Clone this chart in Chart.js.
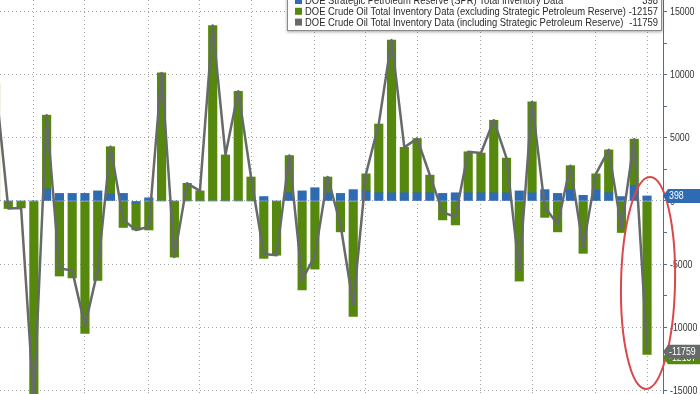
<!DOCTYPE html>
<html>
<head>
<meta charset="utf-8">
<script src="https://cdn.jsdelivr.net/npm/chart.js@4.4.1/dist/chart.umd.min.js"></script>
<style>
  body { margin: 0; background: #fff; }
  #wrap { width: 700px; height: 394px; }
</style>
</head>
<body>
<div id="wrap"><canvas id="graphique" width="700" height="394"></canvas></div>
<script>
// weekly changes, thousand barrels
const sprChange = [0, 0, 0, 0, 950, 600, 600, 600, 800, 550, 600, -200, 250, 0, 0, 0, 0, 0, 0, 0,
  0, 350, 0, 650, 800, 1050, 650, 600, 900, 800, 650, 650, 650, 650, 650, 600, 650, 650, 650, 650,
  650, 800, 650, 900, 600, 900, 450, 850, 650, 350, 1250, 398];
const exSprChange = [9300, -600, -550, -16000, 5850, -5950, -6100, -10500, -6300, 3750, -2100, -2100, -2300, 10150, -4450, 1400, 800, 13900, 3650, 8700,
  1900, -4550, -4300, 2950, -7050, -5400, 1250, -2450, -9150, 1350, 5450, 12100, 3600, 4300, 1400, -1500, -1900, 3250, 3150, 5750,
  2750, -6350, 7200, -1300, -2450, 1900, -4150, 1300, 3400, -2500, 3650, -12157];
const totalChange = [9300, -600, -550, -16000, 6800, -5350, -5500, -9900, -5500, 4300, -1500, -2300, -2050, 10150, -4450, 1400, 800, 13900, 3650, 8700,
  1900, -4200, -4300, 3600, -6250, -4350, 1900, -1850, -8250, 2150, 6100, 12750, 4250, 4950, 2050, -900, -1250, 3900, 3800, 6400,
  3400, -5550, 7850, -500, -1850, 2800, -3700, 2150, 4050, -2150, 4900, -11759];
// month boundaries (week index) used for the vertical grid
const monthIdx = [3, 7, 12, 16, 20, 25, 29, 33, 38, 42, 47, 51];
const yTicks = [-15000, -12500, -10000, -7500, -5000, -2500, 0, 2500, 5000, 7500, 10000, 12500, 15000];
const legendNames = [
  'DOE Strategic Petroleum Reserve (SPR) Total Inventory Data',
  'DOE Crude Oil Total Inventory Data (excluding Strategic Petroleum Reserve)',
  'DOE Crude Oil Total Inventory Data (including Strategic Petroleum Reserve)'
];

const BLUE = '#2e6bb2', GREEN = '#55880c', GREY = '#676a6a';
const pts = arr => arr.map((v, i) => ({ x: i, y: v }));
const last = totalChange.length - 1;

// narrow text, like the terminal font
function narrowText(c, txt, x, y, sx, align) {
  c.save();
  c.translate(x, y);
  c.scale(sx, 1);
  c.textAlign = align;
  c.fillText(txt, 0, 0);
  c.restore();
}

const overlay = {
  id: 'overlay',
  afterDraw(chart) {
    const c = chart.ctx, xs = chart.scales.x, ys = chart.scales.y;
    const lastVals = [sprChange[last], exSprChange[last], totalChange[last]];
    const colors = [BLUE, GREEN, GREY];
    const right = chart.chartArea.right;

    // axis labels
    c.save();
    c.fillStyle = '#333';
    c.font = '11px "Liberation Sans"';
    c.textBaseline = 'middle';
    yTicks.filter(v => v % 5000 === 0).forEach(v => {
      narrowText(c, String(v), right + 7, ys.getPixelForValue(v) + 0.5, 0.8, 'left');
    });
    c.restore();

    // red ellipse round the last week
    c.save();
    const cx = xs.getPixelForValue(last) + 1;
    const cy = ys.getPixelForValue(-6500);
    const ry = ys.getPixelForValue(-6500) - ys.getPixelForValue(1900);
    c.beginPath();
    c.ellipse(cx, cy, 27, ry, 0.02, 0, Math.PI * 2);
    c.strokeStyle = '#d9484a';
    c.lineWidth = 2;
    c.stroke();
    c.restore();

    // value tags on the axis
    const tag = (val, col, dy) => {
      const y = ys.getPixelForValue(val) + dy;
      const x0 = right + 2;
      c.save();
      c.fillStyle = col;
      c.beginPath();
      c.moveTo(x0 - 2, y);
      c.lineTo(x0 + 3, y - 7);
      c.lineTo(700, y - 7);
      c.lineTo(700, y + 7);
      c.lineTo(x0 + 3, y + 7);
      c.closePath();
      c.fill();
      c.fillStyle = '#fff';
      c.font = '11px "Liberation Sans"';
      c.textBaseline = 'middle';
      narrowText(c, String(val), x0 + 4, y + 0.5, 0.8, 'left');
      c.restore();
    };
    tag(exSprChange[last], GREEN, 3);
    tag(totalChange[last], GREY, 2.5);
    tag(sprChange[last], BLUE, 0);

    // legend box
    c.save();
    const bx = 287, by = -6, bw = 375, bh = 37;
    c.shadowColor = 'rgba(0,0,0,0.35)';
    c.shadowBlur = 3;
    c.shadowOffsetY = 1;
    c.fillStyle = '#fff';
    c.fillRect(bx, by, bw, bh);
    c.shadowColor = 'transparent';
    c.strokeStyle = '#8a8a8a';
    c.lineWidth = 1;
    c.strokeRect(bx + 0.5, by + 0.5, bw - 1, bh - 1);
    c.font = '11.5px "Liberation Sans"';
    const sx = 321 / c.measureText(legendNames[1]).width;
    c.textBaseline = 'middle';
    legendNames.forEach((name, i) => {
      const y = 0.5 + i * 10.8;
      c.fillStyle = colors[i];
      c.fillRect(295, y - 3.5, 7, 7);
      c.fillStyle = '#2a2a2a';
      narrowText(c, name, 305, y + 0.5, sx, 'left');
      narrowText(c, String(lastVals[i]), 658, y + 0.5, sx, 'right');
    });
    c.restore();
  }
};

new Chart(document.getElementById('graphique'), {
  type: 'bar',
  data: {
    datasets: [
      { label: legendNames[0], data: pts(sprChange), backgroundColor: BLUE, stack: 'inv', order: 1, barThickness: 8.5 },
      { label: legendNames[1], data: pts(exSprChange), backgroundColor: GREEN, stack: 'inv', order: 2, barThickness: 8.5 },
      { type: 'line', label: legendNames[2], data: pts(totalChange), borderColor: GREY, borderWidth: 2.5,
        borderJoinStyle: 'round', pointRadius: 0, tension: 0, stack: 'tot', order: 0 }
    ]
  },
  options: {
    responsive: false,
    animation: false,
    layout: { padding: 0 },
    plugins: { legend: { display: false }, tooltip: { enabled: false } },
    scales: {
      x: {
        type: 'linear',
        min: 0.35,
        max: 52.25,
        offset: false,
        stacked: true,
        afterBuildTicks: s => { s.ticks = monthIdx.map(v => ({ value: v })); },
        afterFit: s => { s.height = 0; s.paddingLeft = 0; s.paddingRight = 0; },
        ticks: { display: false },
        grid: { color: '#a4a4a4', lineWidth: 1, drawTicks: false, offset: false },
        border: { display: false, dash: [1, 3] }
      },
      y: {
        position: 'right',
        min: -15300,
        max: 15930,
        stacked: true,
        afterBuildTicks: s => { s.ticks = yTicks.map(v => ({ value: v })); },
        afterFit: s => { s.width = 37; s.paddingTop = 0; s.paddingBottom = 0; },
        ticks: { display: false },
        grid: {
          color: ctx => (ctx.tick && ctx.tick.value % 5000 === 0 ? '#a4a4a4' : 'rgba(0,0,0,0)'),
          tickColor: '#4d6f96',
          tickLength: 4,
          lineWidth: 1
        },
        border: { display: true, color: '#4d6f96', width: 1, dash: [1, 3] }
      }
    }
  },
  plugins: [overlay]
});
</script>
</body>
</html>
